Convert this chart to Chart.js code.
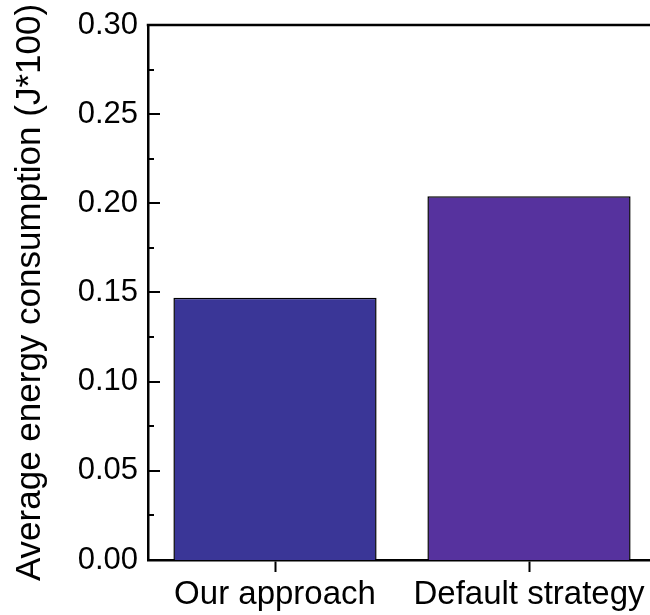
<!DOCTYPE html>
<html>
<head>
<meta charset="utf-8">
<script src="https://cdn.jsdelivr.net/npm/chart.js@4/dist/chart.umd.min.js"></script>
<style>
  html, body { margin: 0; padding: 0; background: #fff; overflow: hidden; }
  canvas { display: block; }
</style>
</head>
<body>
<canvas id="c" width="656" height="615"></canvas>
<script>
const categories = ['Our approach', 'Default strategy'];
const energy = [0.147, 0.204];
const barColors = ['#3a3697', '#56329e'];
const yMin = 0;
const yMax = 0.30;
const yStep = 0.05;
const yTitle = 'Average energy consumption (J*100)';

const FONT = 'Arial, "Liberation Sans", Helvetica, sans-serif';

// Inward major/minor ticks on the value axis plus the top frame line
const frameTicks = {
  id: 'frameTicks',
  afterDraw(chart) {
    const { ctx, chartArea } = chart;
    const y = chart.scales.y;
    ctx.save();
    ctx.strokeStyle = '#000';
    ctx.lineWidth = 2.5;
    ctx.beginPath();
    ctx.moveTo(chartArea.left - 1.25, chartArea.top);
    ctx.lineTo(chartArea.right, chartArea.top);
    ctx.stroke();
    ctx.lineWidth = 2;
    const half = yStep / 2;
    const n = Math.round((yMax - yMin) / half);
    for (let i = 1; i < n; i++) {
      const v = yMin + i * half;
      const py = Math.round(y.getPixelForValue(v));
      const len = i % 2 === 0 ? 12 : 6;
      ctx.beginPath();
      ctx.moveTo(chartArea.left, py);
      ctx.lineTo(chartArea.left + len, py);
      ctx.stroke();
    }
    ctx.restore();
  }
};

new Chart(document.getElementById('c'), {
  type: 'bar',
  data: {
    labels: categories,
    datasets: [{
      data: energy,
      backgroundColor: barColors,
      borderColor: '#000',
      borderWidth: 1.5,
      barPercentage: 0.8,
      categoryPercentage: 1.0
    }]
  },
  options: {
    responsive: false,
    animation: false,
    layout: { padding: { top: 25, left: 0, right: 0, bottom: 0 } },
    plugins: { legend: { display: false }, tooltip: { enabled: false } },
    scales: {
      x: {
        offset: true,
        grid: {
          offset: false,
          display: true,
          drawOnChartArea: false,
          drawTicks: true,
          tickLength: 12,
          tickWidth: 2,
          tickColor: '#000'
        },
        border: { display: true, color: '#000', width: 2.5 },
        ticks: {
          color: '#000',
          padding: 3,
          maxRotation: 0,
          autoSkip: false,
          font: { family: FONT, size: 33 }
        },
        afterFit(scale) {
          scale.height = 55;
          scale.paddingLeft = 0;
          scale.paddingRight = 0;
        }
      },
      y: {
        min: yMin,
        max: yMax,
        grid: { display: false, drawTicks: false },
        border: { display: true, color: '#000', width: 2.5 },
        ticks: {
          stepSize: yStep,
          color: '#000',
          padding: 10,
          font: { family: FONT, size: 31 },
          callback: v => Number(v).toFixed(2)
        },
        title: {
          display: true,
          text: yTitle,
          color: '#000',
          font: { family: FONT, size: 35 },
          padding: { top: 9, bottom: 0 }
        },
        afterFit(scale) {
          scale.width = 148;
          scale.paddingTop = 0;
          scale.paddingBottom = 0;
        }
      }
    }
  },
  plugins: [frameTicks]
});
</script>
</body>
</html>
